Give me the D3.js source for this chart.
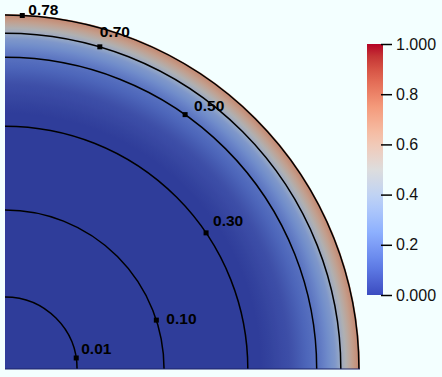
<!DOCTYPE html>
<html>
<head>
<meta charset="utf-8">
<script src="https://cdn.jsdelivr.net/npm/d3@7"></script>
<style>
  body { margin: 0; background: #f3ffff; }
  svg { display: block; }
</style>
</head>
<body>
<div id="chart"></div>
<script>

var width = 442,
    height = 377;

// contour levels and where they sit (radius as fraction of the outer radius, label angle in degrees)
var contourLabels = ["0.01", "0.10", "0.30", "0.50", "0.70", "0.78"];
var contourRadius = [0.203, 0.448, 0.684, 0.878, 0.946, 0.997];
var contourAngle = [8.8, 17.9, 34.1, 54.7, 73.6, 87.2];

// colour field along the radius
var fieldRadius = [0, 0.72, 0.80, 0.88, 0.93, 0.955, 0.98, 1.0];
var fieldValue = [0, 0.0, 0.05, 0.16, 0.30, 0.46, 0.62, 0.72];

// cool to warm colour map
var cmapStops = [0, 0.125, 0.25, 0.375, 0.5, 0.625, 0.75, 0.875, 1];
var cmapColors = ["rgb(59,76,192)", "rgb(98,130,234)", "rgb(141,176,254)", "rgb(184,208,249)",
                  "rgb(221,221,221)", "rgb(245,196,173)", "rgb(244,154,123)", "rgb(222,96,77)", "rgb(180,4,38)"];

// colour bar ticks
var barTicks = [0, 0.2, 0.4, 0.6, 0.8, 1.0];
var barTickLabels = ["0.000", "0.2", "0.4", "0.6", "0.8", "1.000"];

var ox = 5, oy = 369, R = 355;

var coolwarm = d3.scaleLinear().domain(cmapStops).range(cmapColors).interpolate(d3.interpolateLab);
var field = d3.scaleLinear().domain(fieldRadius).range(fieldValue);
var rScale = d3.scaleLinear().domain([0, 1]).range([0, R]);

// flat lit surface comes out a bit darker than the map
function shade(c) {
  var k = 0.8, col = d3.rgb(c);
  return d3.rgb(col.r * k, col.g * k, col.b * k).toString();
}

var svg = d3.select("#chart").append("svg")
  .attr("width", width)
  .attr("height", height);

var defs = svg.append("defs");

var grad = defs.append("radialGradient")
  .attr("id", "fieldGrad")
  .attr("gradientUnits", "userSpaceOnUse")
  .attr("cx", 0).attr("cy", 0).attr("r", R);

grad.selectAll("stop")
  .data(d3.range(0, 1.0001, 0.01))
  .enter().append("stop")
    .attr("offset", function(d) { return d; })
    .attr("stop-color", function(d) { return shade(coolwarm(field(d))); });

var g = svg.append("g").attr("transform", "translate(" + ox + "," + oy + ")");

// quarter disc
g.append("path")
  .attr("d", d3.arc().innerRadius(0).outerRadius(R).startAngle(0).endAngle(Math.PI / 2)())
  .attr("fill", "url(#fieldGrad)");

// contour arcs
function arcPath(r) {
  var p = d3.path();
  p.moveTo(r, 0);
  p.arc(0, 0, r, 0, -Math.PI / 2, true);
  return p.toString();
}

g.selectAll(".contour")
  .data(contourRadius)
  .enter().append("path")
    .attr("class", "contour")
    .attr("d", function(d) { return arcPath(rScale(d)); })
    .attr("fill", "none")
    .attr("stroke", "#000")
    .attr("stroke-width", 1.5);

g.append("line")
  .attr("x1", 0).attr("x2", R)
  .attr("y1", 0).attr("y2", 0)
  .attr("stroke", "#1c2468")
  .attr("stroke-width", 1.2);

// label markers and text
var labelNudge = [[5, -4], [10, 4], [7, -7], [9, -4], [0, -10], [6, 0]];

var lab = g.selectAll(".clabel")
  .data(contourLabels)
  .enter().append("g")
    .attr("class", "clabel")
    .attr("transform", function(d, i) {
      var a = contourAngle[i] * Math.PI / 180, r = rScale(contourRadius[i]);
      return "translate(" + (r * Math.cos(a)) + "," + (-r * Math.sin(a)) + ")";
    });

lab.append("rect")
  .attr("x", -2.5).attr("y", -2.5)
  .attr("width", 5).attr("height", 5)
  .attr("fill", "#000");

lab.append("text")
  .attr("x", function(d, i) { return labelNudge[i][0]; })
  .attr("y", function(d, i) { return labelNudge[i][1]; })
  .attr("font-family", "'Liberation Sans', Arial, sans-serif")
  .attr("font-weight", "bold")
  .attr("font-size", 15.5)
  .attr("fill", "#000")
  .text(function(d) { return d; });

// colour bar
var barX = 367, barW = 16, barTop = 44, barBot = 295;

var lg = defs.append("linearGradient")
  .attr("id", "barGrad")
  .attr("x1", 0).attr("y1", 1).attr("x2", 0).attr("y2", 0);

lg.selectAll("stop")
  .data(d3.range(0, 1.0001, 0.05))
  .enter().append("stop")
    .attr("offset", function(d) { return d; })
    .attr("stop-color", function(d) { return coolwarm(d); });

svg.append("rect")
  .attr("x", barX).attr("y", barTop)
  .attr("width", barW).attr("height", barBot - barTop)
  .attr("fill", "url(#barGrad)");

var barScale = d3.scaleLinear().domain([0, 1]).range([barBot, barTop]);

var barAxis = svg.append("g")
  .attr("transform", "translate(" + (barX + barW - 2) + ",0)")
  .call(d3.axisRight(barScale)
    .tickValues(barTicks)
    .tickSize(11)
    .tickPadding(4)
    .tickFormat(function(d, i) { return barTickLabels[i]; }));

barAxis.select(".domain").remove();
barAxis.selectAll(".tick line").attr("stroke", "#000").attr("stroke-width", 1.5);
barAxis.selectAll(".tick text")
  .attr("font-family", "'Liberation Sans', Arial, sans-serif")
  .attr("font-size", 16)
  .attr("fill", "#111");

</script>
</body>
</html>
